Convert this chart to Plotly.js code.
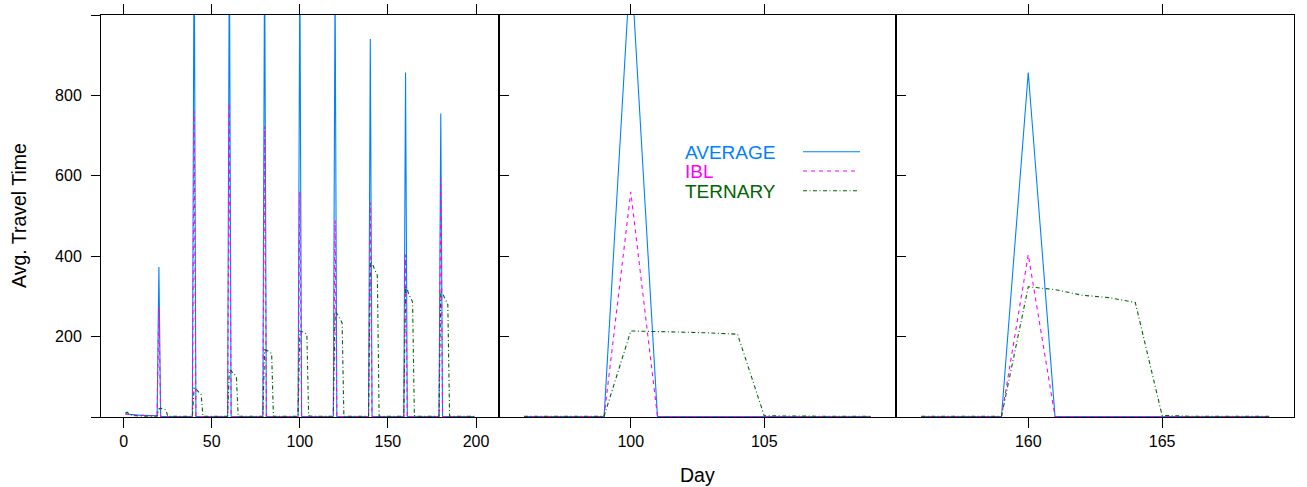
<!DOCTYPE html>
<html>
<head>
<meta charset="utf-8">
<script src="https://cdn.plot.ly/plotly-3.0.1.min.js"></script>
<style>
  html, body { margin: 0; padding: 0; background: #ffffff; }
  #chart { width: 1307px; height: 487px; }
</style>
</head>
<body>
<div id="chart"></div>
<script>
// ---------------- data ----------------
const days = [
  1,2,3,4,5,6,7,8,9,10,11,12,13,14,15,16,17,18,19,20,
  21,22,23,24,25,26,27,28,29,30,31,32,33,34,35,36,37,38,39,40,
  41,42,43,44,45,46,47,48,49,50,51,52,53,54,55,56,57,58,59,60,
  61,62,63,64,65,66,67,68,69,70,71,72,73,74,75,76,77,78,79,80,
  81,82,83,84,85,86,87,88,89,90,91,92,93,94,95,96,97,98,99,100,
  101,102,103,104,105,106,107,108,109,110,111,112,113,114,115,116,117,118,119,120,
  121,122,123,124,125,126,127,128,129,130,131,132,133,134,135,136,137,138,139,140,
  141,142,143,144,145,146,147,148,149,150,151,152,153,154,155,156,157,158,159,160,
  161,162,163,164,165,166,167,168,169,170,171,172,173,174,175,176,177,178,179,180,
  181,182,183,184,185,186,187,188,189,190,191,192,193,194,195,196,197,198,199
];

const average = [
  8,7,7,6,6,5,5,5,4,4,4,4,3,3,3,3,3,3,3,373,
  1,1,1,1,1,1,1,1,1,1,1,1,1,1,1,1,1,1,1,1250,
  1,1,1,1,1,1,1,1,1,1,1,1,1,1,1,1,1,1,1,1200,
  1,1,1,1,1,1,1,1,1,1,1,1,1,1,1,1,1,1,1,1180,
  1,1,1,1,1,1,1,1,1,1,1,1,1,1,1,1,1,1,1,1140,
  1,1,1,1,1,1,1,1,1,1,1,1,1,1,1,1,1,1,1,1100,
  1,1,1,1,1,1,1,1,1,1,1,1,1,1,1,1,1,1,1,940,
  1,1,1,1,1,1,1,1,1,1,1,1,1,1,1,1,1,1,1,857,
  1,1,1,1,1,1,1,1,1,1,1,1,1,1,1,1,1,1,1,755,
  1,1,1,1,1,1,1,1,1,1,1,1,1,1,1,1,1,1,1
];

const ibl = [
  7,7,6,6,5,5,5,4,4,4,4,3,3,3,3,3,3,3,3,273,
  1,1,1,1,1,1,1,1,1,1,1,1,1,1,1,1,1,1,1,761,
  1,1,1,1,1,1,1,1,1,1,1,1,1,1,1,1,1,1,1,780,
  1,1,1,1,1,1,1,1,1,1,1,1,1,1,1,1,1,1,1,724,
  1,1,1,1,1,1,1,1,1,1,1,1,1,1,1,1,1,1,1,560,
  1,1,1,1,1,1,1,1,1,1,1,1,1,1,1,1,1,1,1,489,
  1,1,1,1,1,1,1,1,1,1,1,1,1,1,1,1,1,1,1,534,
  1,1,1,1,1,1,1,1,1,1,1,1,1,1,1,1,1,1,1,404,
  1,1,1,1,1,1,1,1,1,1,1,1,1,1,1,1,1,1,1,593,
  1,1,1,1,1,1,1,1,1,1,1,1,1,1,1,1,1,1,1
];

const ternary = [
  10,12,8,6,4,3,3,2,2,2,2,2,2,2,2,2,2,2,2,20,
  22,20,19,18,2,2,2,2,2,2,2,2,2,2,2,2,2,2,2,72,
  70,65,60,55,2,2,2,2,2,2,2,2,2,2,2,2,2,2,2,117,
  115,110,105,100,2,2,2,2,2,2,2,2,2,2,2,2,2,2,2,167,
  166,164,161,158,2,2,2,2,2,2,2,2,2,2,2,2,2,2,2,214,
  213,211,209,206,3,2,2,2,2,2,2,2,2,2,2,2,2,2,2,262,
  258,250,242,234,2,2,2,2,2,2,2,2,2,2,2,2,2,2,2,387,
  383,372,362,352,2,2,2,2,2,2,2,2,2,2,2,2,2,2,2,324,
  317,303,297,285,4,2,2,2,2,2,2,2,2,2,2,2,2,2,2,312,
  308,298,290,280,2,2,2,2,2,2,2,2,2,2,2,2,2,2,2
];

const seriesNames = ["AVERAGE", "IBL", "TERNARY"];
// day windows shown in the three panels: [first day, last day]
const panelWindows = [[1, 199], [96, 109], [156, 169]];
const xTicks1 = [0, 50, 100, 150, 200];
const xTicks2 = [100, 105];
const xTicks3 = [160, 165];
const yTicks = [0, 200, 400, 600, 800, 1000];
const yTickText = ["", "200", "400", "600", "800", ""];

// ---------------- styling ----------------
const colors = ["#0080ff", "#ff00ff", "#006400"];
const dashes = ["solid", "4px,4px", "4px,2.5px,1px,2.5px"];
const FONT = "Liberation Sans, Arial, Helvetica, sans-serif";

const W = 1307, H = 487;
const M = {l: 101, r: 13, t: 15, b: 70};
const PW = W - M.l - M.r, PH = H - M.t - M.b;
const px2x = p => (p - M.l) / PW;
const px2y = p => (H - M.b - p) / PH;

const values = [average, ibl, ternary];
const traces = [];
[["x", "y"], ["x2", "y2"], ["x3", "y3"]].forEach(([xa, ya], p) => {
  const [d0, d1] = panelWindows[p];
  const i0 = days.indexOf(d0), i1 = days.indexOf(d1) + 1;
  values.forEach((v, i) => {
    traces.push({
      type: "scatter", mode: "lines", x: days.slice(i0, i1), y: v.slice(i0, i1),
      name: seriesNames[i], xaxis: xa, yaxis: ya, showlegend: false, hoverinfo: "skip",
      line: {color: colors[i], width: 1.1, dash: dashes[i]}
    });
  });
});

const baseX = {
  ticks: "outside", ticklen: 10, tickwidth: 1, tickcolor: "#000",
  showline: true, linecolor: "#000", linewidth: 1, mirror: "ticks",
  showgrid: false, zeroline: false, fixedrange: true,
  tickfont: {family: FONT, size: 16, color: "#000"}, tickmode: "array"
};
const baseY = {
  range: [0, 1000], tickmode: "array", tickvals: yTicks, ticktext: yTickText,
  tickwidth: 1, tickcolor: "#000", showline: true, linecolor: "#000", linewidth: 1,
  showgrid: false, zeroline: false, fixedrange: true,
  tickfont: {family: FONT, size: 16, color: "#000"}
};

const legendRows = [151.7, 171, 190.7];
const annotations = seriesNames.map((n, i) => ({
  xref: "paper", yref: "paper", x: px2x(684), y: px2y(legendRows[i]),
  xanchor: "left", yanchor: "middle", showarrow: false, text: n,
  height: 18, valign: "middle", borderpad: 0,
  font: {family: FONT, size: 19, color: colors[i]}
}));
annotations.push({
  xref: "paper", yref: "paper", x: px2x(697), y: px2y(475),
  xanchor: "center", yanchor: "middle", showarrow: false, text: "Day",
  font: {family: FONT, size: 19.5, color: "#000"}
});
annotations.push({
  xref: "paper", yref: "paper", x: px2x(19), y: 0.5, textangle: -90,
  xanchor: "center", yanchor: "middle", showarrow: false, text: "Avg. Travel Time",
  font: {family: FONT, size: 19.5, color: "#000"}
});

const legendEnds = [860, 859, 857];
const shapes = seriesNames.map((n, i) => ({
  type: "line", xref: "paper", yref: "paper",
  x0: px2x(803), x1: px2x(legendEnds[i]), y0: px2y(legendRows[i]), y1: px2y(legendRows[i]),
  line: {color: colors[i], width: 1.1, dash: dashes[i]}
}));

const layout = {
  width: W, height: H, margin: M,
  paper_bgcolor: "#ffffff", plot_bgcolor: "#ffffff",
  showlegend: false, hovermode: false,
  font: {family: FONT, color: "#000"},
  xaxis: Object.assign({}, baseX, {domain: [0, 1/3], range: [-12.86, 212.86], tickvals: xTicks1, anchor: "y"}),
  xaxis2: Object.assign({}, baseX, {domain: [1/3, 2/3], range: [95.05, 109.95], tickvals: xTicks2, anchor: "y2"}),
  xaxis3: Object.assign({}, baseX, {domain: [2/3, 1], range: [155.07, 169.93], tickvals: xTicks3, anchor: "y3"}),
  yaxis: Object.assign({}, baseY, {anchor: "x", ticks: "outside", ticklen: 9, mirror: true, ticklabelstandoff: 6}),
  yaxis2: Object.assign({}, baseY, {anchor: "x2", ticks: "inside", ticklen: 10, mirror: true, showticklabels: false}),
  yaxis3: Object.assign({}, baseY, {anchor: "x3", ticks: "inside", ticklen: 10, mirror: true, showticklabels: false}),
  yaxis4: Object.assign({}, baseY, {anchor: "x3", overlaying: "y3", side: "right", ticks: "outside", ticklen: 10, showticklabels: false}),
  annotations: annotations,
  shapes: shapes
};

Plotly.newPlot("chart", traces, layout, {staticPlot: true, displayModeBar: false});
</script>
</body>
</html>
